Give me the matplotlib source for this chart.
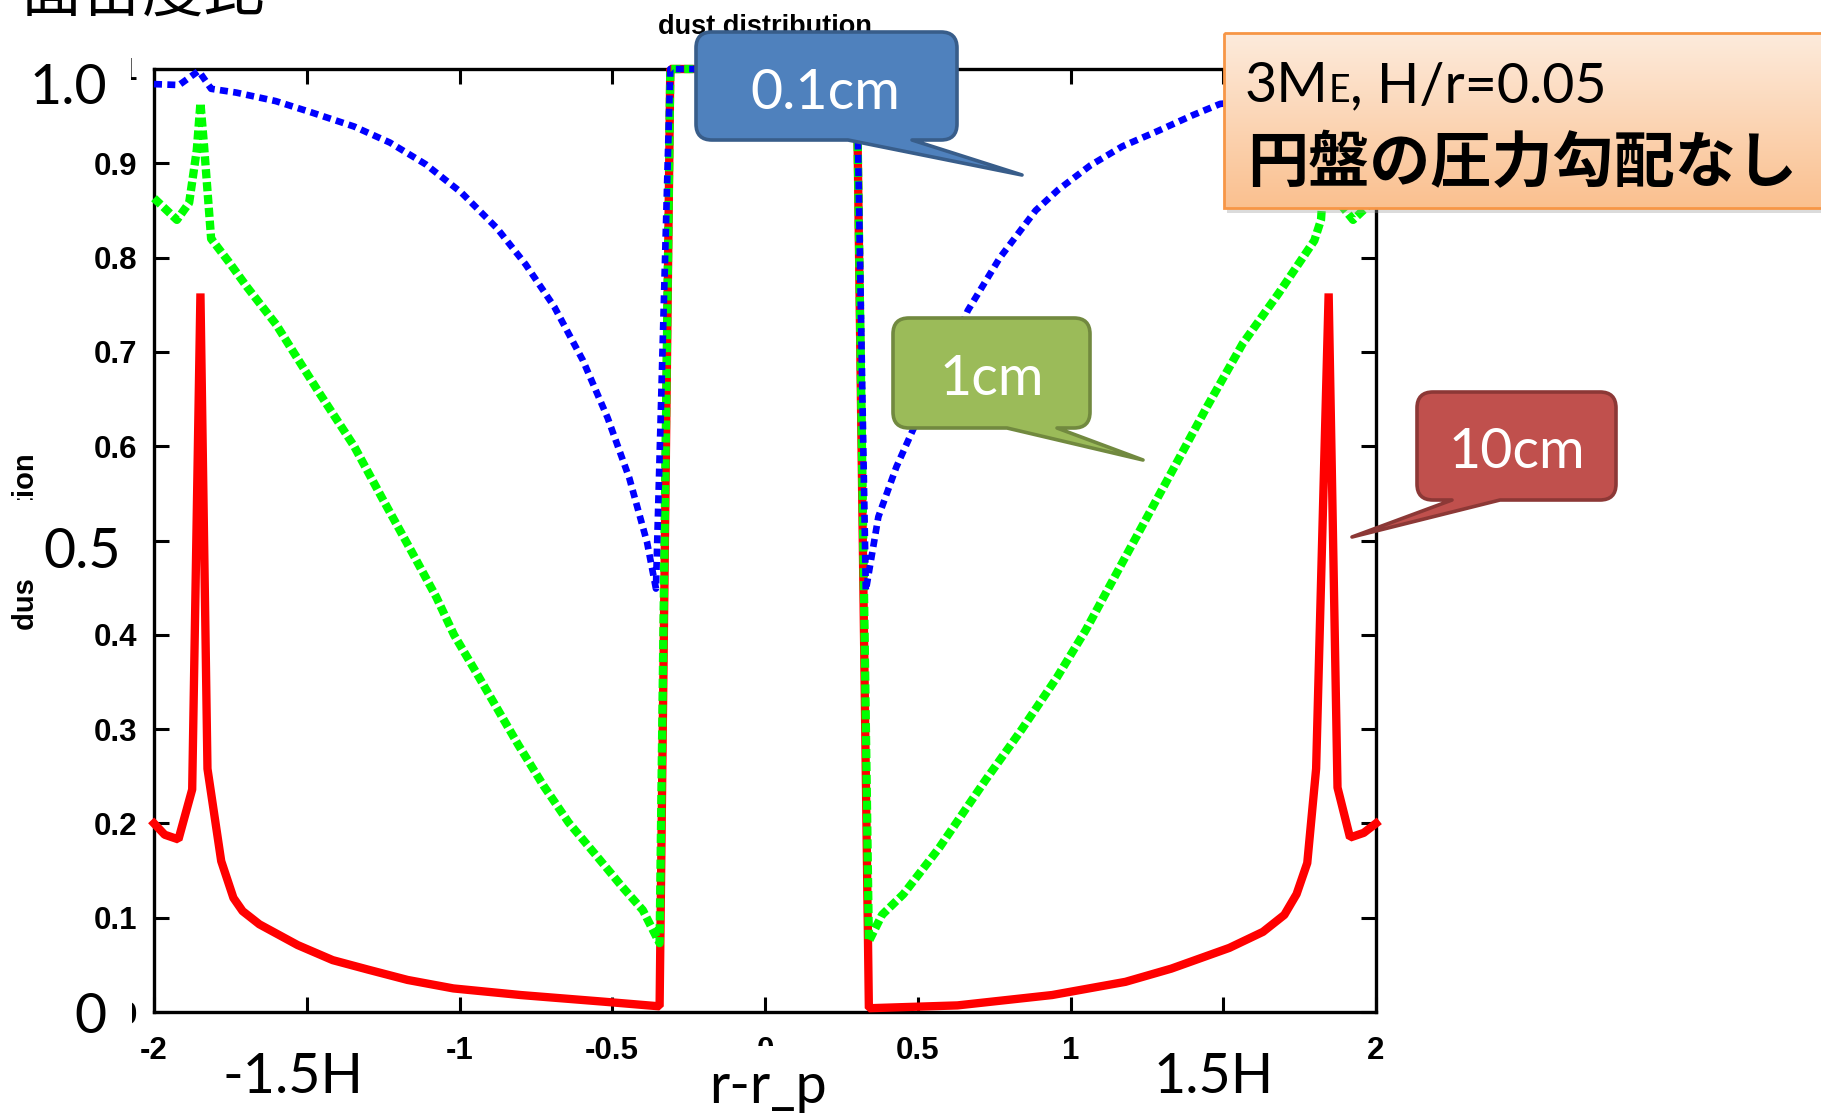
import numpy as np
import matplotlib.pyplot as plt
from matplotlib.patches import Rectangle, PathPatch
from matplotlib.path import Path
from matplotlib.colors import LinearSegmentedColormap

# dust fraction vs r - r_p
x_10cm = [-2.00, -1.965, -1.92, -1.875, -1.848, -1.825, -1.78, -1.74, -1.71, -1.655,
          -1.53, -1.415, -1.30, -1.17, -1.02, -0.80, -0.53, -0.345, -0.31,
          0.30, 0.34, 0.63, 0.94, 1.18, 1.33, 1.52, 1.63, 1.70, 1.74, 1.775,
          1.804, 1.845, 1.874, 1.915, 1.96, 2.00]
frac_10cm = [0.200, 0.188, 0.183, 0.236, 0.762, 0.258, 0.160, 0.121, 0.107, 0.093,
             0.071, 0.055, 0.045, 0.034, 0.025, 0.018, 0.011, 0.006, 1.0,
             1.0, 0.004, 0.007, 0.018, 0.032, 0.046, 0.068, 0.085, 0.103, 0.125, 0.158,
             0.258, 0.762, 0.238, 0.185, 0.190, 0.200]

x_1cm = [-2.00, -1.925, -1.885, -1.86, -1.848, -1.836, -1.813, -1.754, -1.696, -1.60,
         -1.54, -1.46, -1.345, -1.25, -1.158, -1.076, -1.018, -0.947, -0.877, -0.807,
         -0.725, -0.643, -0.55, -0.468, -0.40, -0.345, -0.31,
         0.30, 0.34, 0.383, 0.453, 0.57, 0.722, 0.839, 0.956, 1.05, 1.167, 1.33,
         1.447, 1.564, 1.681, 1.798, 1.82, 1.845, 1.88, 1.925, 2.00]
frac_1cm = [0.863, 0.840, 0.858, 0.914, 0.964, 0.918, 0.820, 0.795, 0.769, 0.729,
            0.698, 0.657, 0.600, 0.543, 0.489, 0.440, 0.400, 0.361, 0.322, 0.283,
            0.240, 0.201, 0.165, 0.133, 0.108, 0.073, 1.0,
            1.0, 0.075, 0.103, 0.125, 0.174, 0.246, 0.299, 0.355, 0.405, 0.475, 0.572,
            0.642, 0.709, 0.762, 0.818, 0.840, 0.964, 0.858, 0.840, 0.863]

x_01cm = [-2.00, -1.918, -1.854, -1.813, -1.731, -1.602, -1.485, -1.345, -1.228, -1.111,
          -0.994, -0.877, -0.784, -0.69, -0.596, -0.515, -0.444, -0.386, -0.357, -0.31,
          0.30, 0.33, 0.371, 0.43, 0.488, 0.57, 0.664, 0.769, 0.886, 0.96, 1.066,
          1.17, 1.284, 1.40, 1.49, 1.60, 1.73, 1.81, 1.85, 1.92, 2.00]
frac_01cm = [0.984, 0.983, 0.998, 0.979, 0.975, 0.966, 0.954, 0.939, 0.922, 0.899,
             0.869, 0.831, 0.793, 0.748, 0.691, 0.630, 0.566, 0.498, 0.449, 1.0,
             1.0, 0.447, 0.525, 0.578, 0.620, 0.673, 0.744, 0.800, 0.850, 0.872, 0.898,
             0.918, 0.934, 0.951, 0.963, 0.966, 0.975, 0.979, 0.998, 0.983, 0.984]

xticks = [-2, -1.5, -1, -0.5, 0, 0.5, 1, 1.5, 2]
xtick_labels = ['-2', '', '-1', '-0.5', '0', '0.5', '1', '', '2']
yticks = [0, 0.1, 0.2, 0.3, 0.4, 0.5, 0.6, 0.7, 0.8, 0.9, 1.0]
ytick_labels = ['0', '0.1', '0.2', '0.3', '0.4', '0.5', '0.6', '0.7', '0.8', '0.9', '1']

W, H = 1821, 1120
GP = ['Liberation Sans', 'DejaVu Sans']
SLIDE = ['Lato', 'DejaVu Sans']
JP = ['Noto Sans CJK JP', 'DejaVu Sans']

fig = plt.figure(figsize=(W / 100, H / 100), dpi=100)
ax = fig.add_axes([154 / W, 1 - 1012 / H, (1376 - 154) / W, (1012 - 69) / H])

ax.plot(x_10cm, frac_10cm, color='#ff0000', lw=6, solid_joinstyle='bevel',
        clip_on=False, zorder=3)
ax.plot(x_1cm, frac_1cm, color='#00ff00', lw=6, ls=(0, (1.1, 0.45)),
        clip_on=False, zorder=3)
ax.plot(x_01cm, frac_01cm, color='#0000ff', lw=4.8, ls=(0, (1.2, 0.8)),
        clip_on=False, zorder=3)

ax.set_xlim(-2, 2)
ax.set_ylim(0, 1)
ax.set_xticks(xticks)
ax.set_xticklabels(xtick_labels, family=GP, fontweight='bold', fontsize=22.5)
ax.set_yticks(yticks)
ax.set_yticklabels(ytick_labels, family=GP, fontweight='bold', fontsize=22.5)
ax.tick_params(direction='in', length=11, width=2.2, top=True, right=True)
ax.tick_params(axis='y', pad=12)
ax.tick_params(axis='x', pad=17)
for s in ax.spines.values():
    s.set_linewidth(2.4)
ax.set_title('dust distribution', family=GP, fontweight='bold', fontsize=19.5, pad=25)

fig.text(26.5 / W, 1 - 542 / H, 'dust fraction', rotation=90, ha='center', va='center',
         family=GP, fontweight='bold', fontsize=21)

# overlay in pixel coordinates (y downwards) for the slide annotations
ov = fig.add_axes([0, 0, 1, 1], zorder=5)
ov.axis('off')

# white boxes hiding parts of the gnuplot labels
for x0, y0, x1, y1 in [(20, 50, 131, 92), (40, 990, 132, 1040), (0, 500, 145, 580),
                       (700, 1046, 835, 1120)]:
    ov.add_patch(Rectangle((x0, y0), x1 - x0, y1 - y0, color='white', lw=0, zorder=1))

big = dict(family=SLIDE, fontsize=40, va='baseline', ha='center', zorder=3)
ov.text(68, 104, '1.0', **big)
ov.text(82, 568, '0.5', **big)
ov.text(90, 1033, '0', **big)
ov.text(293, 1093, '-1.5H', **big)
ov.text(1214, 1093, '1.5H', **big)
ov.text(768, 1103, 'r-r_p', **big)
ov.text(20, 11, '面密度比', family=JP, fontsize=44, va='baseline', ha='left', zorder=3)


def callout(x0, y0, x1, y1, bx0, bx1, tip, face, edge, r=16):
    tx, ty = tip
    verts = [(x0 + r, y0), (x1 - r, y0), (x1, y0), (x1, y0 + r), (x1, y1 - r), (x1, y1),
             (x1 - r, y1), (bx1, y1), (tx, ty), (bx0, y1), (x0 + r, y1), (x0, y1),
             (x0, y1 - r), (x0, y0 + r), (x0, y0), (x0 + r, y0), (x0 + r, y0)]
    codes = [Path.MOVETO, Path.LINETO, Path.CURVE3, Path.CURVE3, Path.LINETO, Path.CURVE3,
             Path.CURVE3, Path.LINETO, Path.LINETO, Path.LINETO, Path.LINETO, Path.CURVE3,
             Path.CURVE3, Path.LINETO, Path.CURVE3, Path.CURVE3, Path.CLOSEPOLY]
    ov.add_patch(PathPatch(Path(verts, codes), facecolor=face, edgecolor=edge, lw=2.6,
                           joinstyle='round', zorder=4))


lbl = dict(family=SLIDE, fontsize=40, color='white', va='baseline', ha='center', zorder=5)
callout(696, 32, 957, 140, 848, 912, (1022, 175), '#4f81bd', '#385d8a')
ov.text(825, 109, '0.1cm', **lbl)
callout(893, 318, 1090, 428, 1007, 1057, (1143, 460), '#9bbb59', '#71893f')
ov.text(992, 395, '1cm', **lbl)
callout(1417, 392, 1616, 500, 1452, 1500, (1352, 537), '#c0504d', '#8c3836')
ov.text(1517, 468, '10cm', **lbl)

# orange note box
bx0, by0, bx1, by1 = 1224, 33, 1835, 208
ov.add_patch(Rectangle((bx0 + 3, by0 + 5), bx1 - bx0, by1 - by0, color='#999999',
                       alpha=0.35, lw=0, zorder=4))
cmap = LinearSegmentedColormap.from_list('peach', ['#fdebdc', '#fac08f'])
ov.imshow(np.linspace(0, 1, 256)[:, None], cmap=cmap, extent=(bx0, bx1, by1, by0),
          aspect='auto', zorder=4.5)
ov.add_patch(Rectangle((bx0, by0), bx1 - bx0, by1 - by0, fill=False, edgecolor='#f79646',
                       lw=2, zorder=4.6))
ov.set_xlim(0, W)
ov.set_ylim(H, 0)

r = fig.canvas.get_renderer()
t1 = ov.text(1245, 102, '3M', family=SLIDE, fontsize=40, va='baseline', zorder=5)
w1 = t1.get_window_extent(r).width
t2 = ov.text(1245 + w1, 102, 'E', family=SLIDE, fontsize=27, va='baseline', zorder=5)
w2 = t2.get_window_extent(r).width
ov.text(1245 + w1 + w2, 102, ', H/r=0.05', family=SLIDE, fontsize=40, va='baseline', zorder=5)
ov.text(1247, 182, '円盤の圧力勾配なし', family=JP, fontsize=44, fontweight='bold',
        va='baseline', zorder=5)

fig.savefig('out.png', dpi=100)
